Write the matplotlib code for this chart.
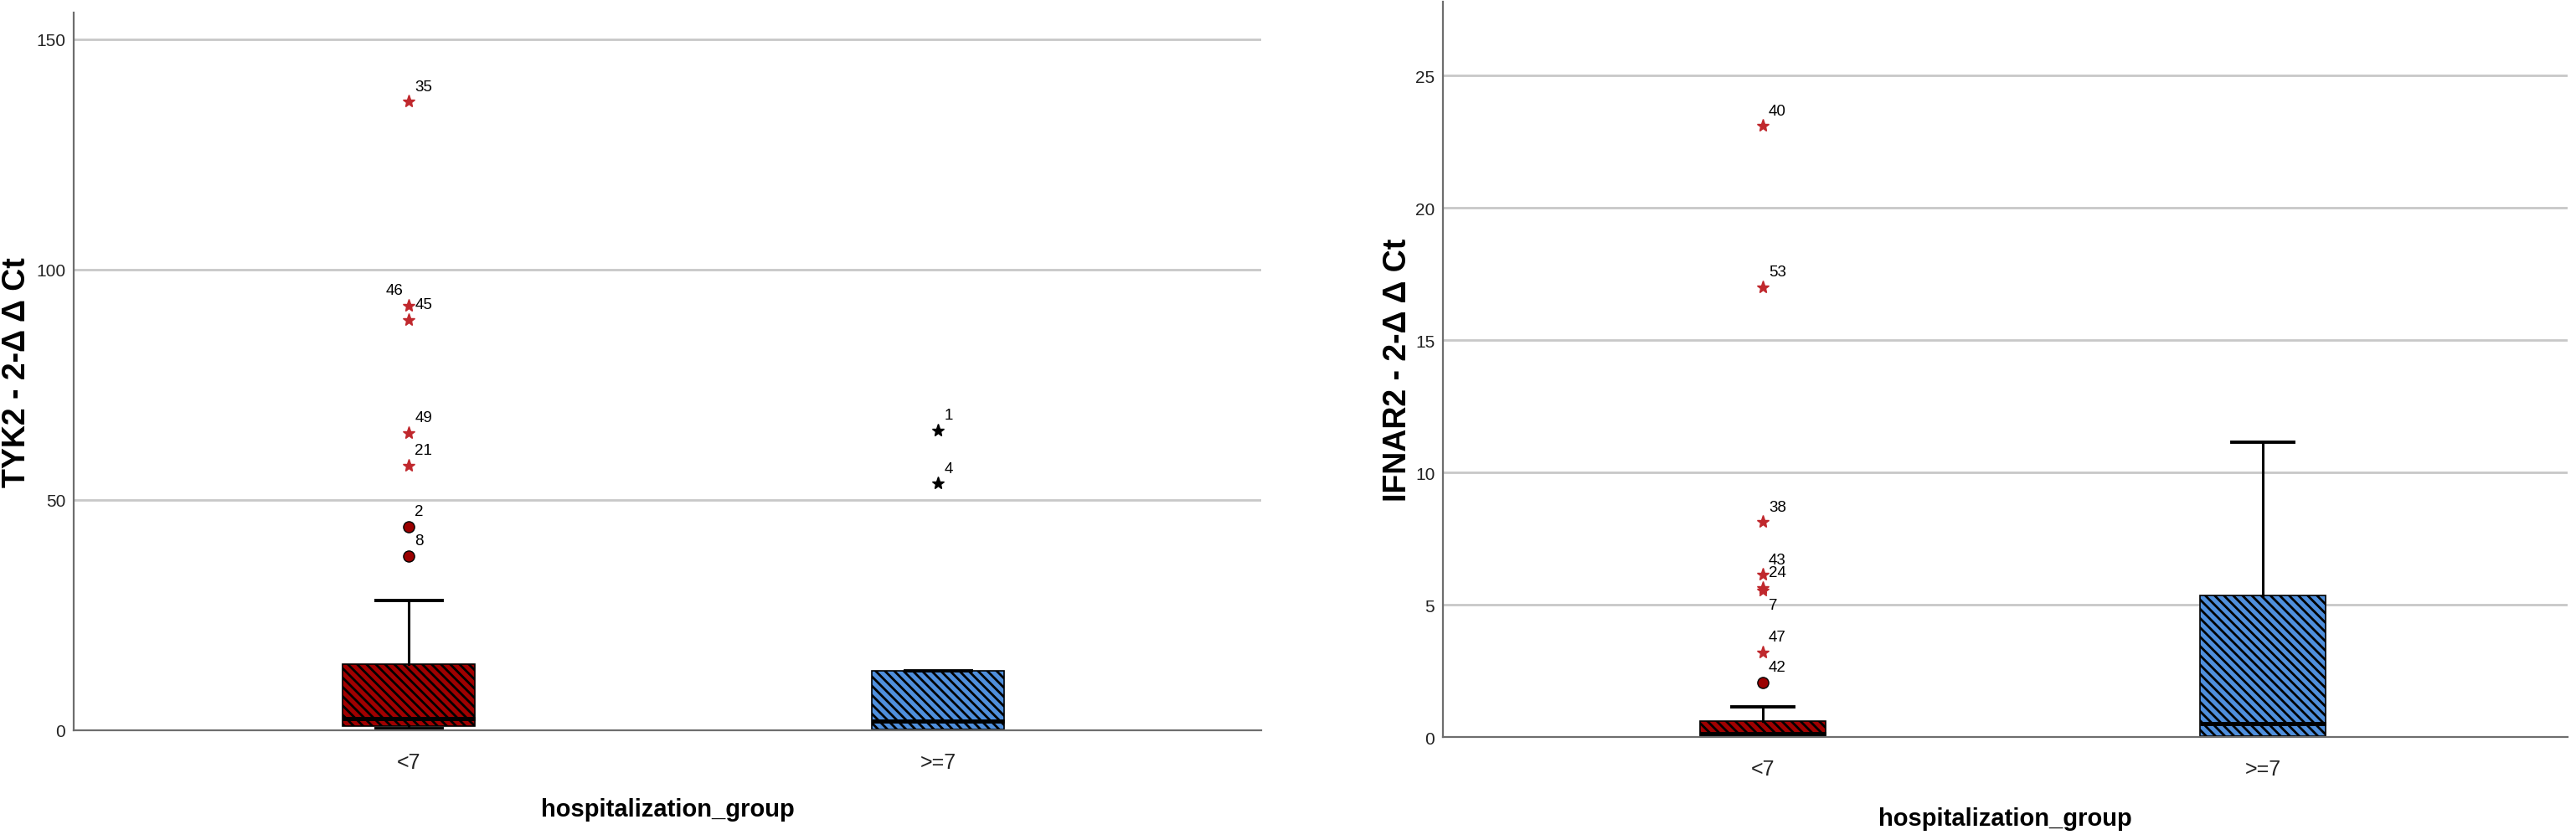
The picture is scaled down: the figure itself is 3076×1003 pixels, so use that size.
import matplotlib
matplotlib.use("Agg")
import matplotlib.pyplot as plt

plt.rcParams['font.family'] = ['Liberation Sans', 'Noto Sans CJK SC', 'DejaVu Sans']
plt.rcParams['hatch.linewidth'] = 2.0

groups = ['<7', '>=7']

# TYK2 box statistics per group
tyk2_q1 = [0.85, 0.2]
tyk2_med = [2.5, 2.0]
tyk2_q3 = [14.3, 12.85]
tyk2_whislo = [0.3, 0.0]
tyk2_whishi = [28.1, 12.85]
# outliers (circles) and extremes (stars)
tyk2_out_grp = [0, 0]
tyk2_out_val = [44.2, 37.9]
tyk2_out_id = ['2', '8']
tyk2_ext_grp = [0, 0, 0, 0, 0, 1, 1]
tyk2_ext_val = [136.5, 92.2, 89.1, 64.6, 57.5, 65.1, 53.6]
tyk2_ext_id = ['35', '46', '45', '49', '21', '1', '4']

# IFNAR2 box statistics per group
ifnar2_q1 = [0.03, 0.03]
ifnar2_med = [0.14, 0.51]
ifnar2_q3 = [0.59, 5.36]
ifnar2_whislo = [0.0, 0.0]
ifnar2_whishi = [1.15, 11.16]
ifnar2_out_grp = [0]
ifnar2_out_val = [2.07]
ifnar2_out_id = ['42']
ifnar2_ext_grp = [0, 0, 0, 0, 0, 0, 0]
ifnar2_ext_val = [23.11, 17.01, 8.13, 6.13, 5.65, 5.55, 3.20]
ifnar2_ext_id = ['40', '53', '38', '43', '24', '7', '47']

# label placement tweaks (pixels) where SPSS moved labels to avoid overlap
label_shift = {'46': (-7, 18, 'right'), '7': (7, -18, 'left')}

box_colors = ['#A00000', '#4F8FDC']
star_colors = ['#C0282D', 'black']


def draw_panel(ax, q1, med, q3, wlo, whi, out_grp, out_val, out_id,
               ext_grp, ext_val, ext_id, ylim, yticks, ylabel, ylab_x, xlim):
    stats = []
    for i, g in enumerate(groups):
        stats.append(dict(med=med[i], q1=q1[i], q3=q3[i], whislo=wlo[i],
                          whishi=whi[i], label=g))
    bp = ax.bxp(stats, positions=[0, 1], widths=0.25, capwidths=0.125,
                patch_artist=True, showfliers=False,
                boxprops=dict(edgecolor='black', linewidth=1.2),
                medianprops=dict(color='black', linewidth=3.5),
                whiskerprops=dict(color='black', linewidth=2.2),
                capprops=dict(color='black', linewidth=2.8))
    for patch, c in zip(bp['boxes'], box_colors):
        patch.set_facecolor(c)
        patch.set_hatch('\\\\\\')
        patch.set_zorder(2)

    ax.plot(out_grp, out_val, 'o', ms=9.5, mfc='#9B0000', mec='black',
            mew=1.0, zorder=3, ls='none')
    for i in range(len(ext_val)):
        ax.plot(ext_grp[i], ext_val[i], '*', ms=11, color=star_colors[ext_grp[i]],
                zorder=3, ls='none')

    for g, v, t in list(zip(out_grp, out_val, out_id)) + list(zip(ext_grp, ext_val, ext_id)):
        dx, dy, ha = label_shift.get(t, (7, 18, 'left'))
        ax.annotate(t, (g, v), xytext=(dx, dy), textcoords='offset pixels',
                    ha=ha, va='center', fontsize=13.5, color='black')

    ax.set_xlim(*xlim)
    ax.set_ylim(*ylim)
    ax.set_yticks(yticks)
    ax.set_xticks([0, 1])
    ax.set_xticklabels(groups)
    ax.yaxis.grid(True, color='#C8C8C8', linewidth=2.0)
    ax.set_axisbelow(True)
    for s in ['top', 'right']:
        ax.spines[s].set_visible(False)
    for s in ['left', 'bottom']:
        ax.spines[s].set_color('#6E6E6E')
        ax.spines[s].set_linewidth(1.6)
        ax.spines[s].set_zorder(4)
    ax.tick_params(axis='y', length=0, pad=7, labelsize=15, labelcolor='#222222')
    ax.tick_params(axis='x', length=0, pad=19, labelsize=18, labelcolor='#222222')
    ax.set_xlabel('hospitalization_group', fontsize=21, fontweight='bold')
    ax.xaxis.set_label_coords(0.5, -0.11)
    ax.xaxis.label.set_va('center')
    ax.set_ylabel(ylabel, fontsize=27, fontweight='bold')
    ax.yaxis.set_label_coords(ylab_x, 0.5)
    ax.yaxis.label.set_va('center')


fig = plt.figure(figsize=(30.76, 10.04), dpi=100)
ax1 = fig.add_axes([88 / 3076, 0.1305, 1418 / 3076, 0.8536])
ax2 = fig.add_axes([1723 / 3076, 0.1225, 1343 / 3076, 0.8745])

draw_panel(ax1, tyk2_q1, tyk2_med, tyk2_q3, tyk2_whislo, tyk2_whishi,
           tyk2_out_grp, tyk2_out_val, tyk2_out_id,
           tyk2_ext_grp, tyk2_ext_val, tyk2_ext_id,
           (0, 155.8), [0, 50, 100, 150], 'TYK2 - 2-Δ Δ Ct', -0.048,
           (-0.633, 1.61))
draw_panel(ax2, ifnar2_q1, ifnar2_med, ifnar2_q3, ifnar2_whislo, ifnar2_whishi,
           ifnar2_out_grp, ifnar2_out_val, ifnar2_out_id,
           ifnar2_ext_grp, ifnar2_ext_val, ifnar2_ext_id,
           (0, 27.8), [0, 5, 10, 15, 20, 25], 'IFNAR2 - 2-Δ Δ Ct', -0.040,
           (-0.64, 1.61))

fig.savefig('out.png', dpi=100, facecolor='white')
